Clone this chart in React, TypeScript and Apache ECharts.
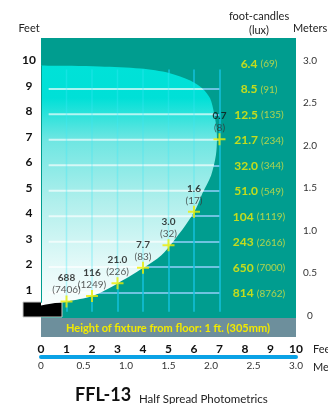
import React, { useEffect, useRef } from 'react';
import * as echarts from 'echarts';

const FONT = 'Lato, "Noto Sans", sans-serif';

// Grid line positions (feet)
const gridRows = [1, 2, 3, 4, 5, 6, 7, 8, 9];
const gridCols = [1, 2, 3, 4, 5, 6, 7];

// Half-spread edge points (distance ft, height ft)
const crossX = [1, 2, 3, 4, 5, 6, 7];
const crossY = [0.65, 0.86, 1.37, 1.97, 2.86, 4.17, 7.02];
const crossFc = ['688', '116', '21.0', '7.7', '3.0', '1.6', '0.7'];
const crossLux = ['7406', '1249', '226', '83', '32', '17', '8'];

// Center beam illuminance per height (ft)
const heightFt = [10, 9, 8, 7, 6, 5, 4, 3, 2, 1];
const centerFc = ['6.4', '8.5', '12.5', '21.7', '32.0', '51.0', '104', '243', '650', '814'];
const centerLux = ['69', '91', '135', '234', '344', '549', '1119', '2616', '7000', '8762'];
const centerLabelX = 8.55;

// Beam outline (distance ft, height ft)
const beamEdge: number[][] = [
  [-1, 10.0], [0, 9.92], [1.2, 9.91], [2.3, 9.88], [3.9, 9.8], [5.05, 9.62],
  [5.85, 9.33], [6.35, 9.0], [6.63, 8.63], [6.78, 8.08], [6.87, 7.55], [6.9, 7.05],
  [6.86, 6.4], [6.67, 5.6], [6.33, 4.9], [6.08, 4.3], [5.66, 3.63], [5.18, 3.0],
  [4.72, 2.47], [4.0, 1.96], [3.02, 1.37], [2.0, 0.86], [1.05, 0.65], [0.7, 0.6], [-1, 0.6],
];

const TEAL = '#009d8f';

export default function App() {
  const ref = useRef<HTMLDivElement>(null);
  useEffect(() => {
    if (!ref.current) return;
    const chart = echarts.init(ref.current, undefined, { renderer: 'svg' });
    const gradient = new echarts.graphic.LinearGradient(0, 0, 0, 1, [
      { offset: 0, color: '#00e2d8' },
      { offset: 0.15, color: '#00e0d7' },
      { offset: 0.32, color: '#6ee6e2' },
      { offset: 0.57, color: '#b0efec' },
      { offset: 0.82, color: '#e2f9f8' },
      { offset: 1, color: '#fbfefe' },
    ]);
    const option: any = {
      animation: false,
      textStyle: { fontFamily: FONT },
      grid: {
        left: 41, right: 32, top: 38, bottom: 86, show: true, backgroundColor: TEAL, borderWidth: 0,
        containLabel: false, outerBoundsMode: 'none',
      },
      xAxis: [
        {
          type: 'value', min: 0, max: 10, interval: 1, position: 'bottom', offset: 30,
          axisLine: { show: false, onZero: false }, axisTick: { show: false }, splitLine: { show: false },
          axisLabel: { margin: 0, verticalAlign: 'middle', fontWeight: 'bold', fontSize: 12, color: '#111', fontFamily: FONT },
        },
        {
          type: 'value', min: 0, max: 3, interval: 0.5, position: 'bottom', offset: 39,
          axisLine: { show: true, onZero: false, lineStyle: { color: '#0aa2e6', width: 4 } },
          axisTick: { show: false }, splitLine: { show: false },
          axisLabel: { margin: 3, fontSize: 10, color: '#333', fontFamily: FONT, formatter: (v: number) => (v === 0 ? '0' : v.toFixed(1)) },
        },
      ],
      yAxis: [
        {
          type: 'value', min: 0, max: 11, interval: 1, position: 'left',
          axisLine: { show: false }, axisTick: { show: false }, splitLine: { show: false },
          axisLabel: {
            formatter: (v: number) => (v >= 1 && v <= 10 ? String(v) : ''),
            align: 'center', verticalAlign: 'bottom', lineHeight: 7, margin: 12,
            fontWeight: 'bold', fontSize: 12, color: '#111', fontFamily: FONT,
          },
        },
        {
          type: 'value', min: 0, max: 3.3, interval: 0.5, position: 'right',
          axisLine: { show: false }, axisTick: { show: false }, splitLine: { show: false },
          axisLabel: {
            formatter: (v: number) => {
              if (v === 0) return '0';
              const d = v * 2;
              return Math.abs(d - Math.round(d)) < 1e-6 ? v.toFixed(1) : '';
            },
            align: 'center', verticalAlign: 'bottom', lineHeight: 7, margin: 14,
            fontSize: 10, color: '#333', fontFamily: FONT,
          },
        },
      ],
      series: [
        {
          type: 'lines', coordinateSystem: 'cartesian2d', xAxisIndex: 0, yAxisIndex: 0, z: 1, silent: true,
          data: gridRows.map((k) => ({ coords: [[0.3, k], [7.02, k]] })),
          lineStyle: { color: '#6ec3e0', width: 2, opacity: 1 },
        },
        {
          type: 'lines', coordinateSystem: 'cartesian2d', xAxisIndex: 0, yAxisIndex: 0, z: 1, silent: true,
          data: gridCols.map((k) => ({ coords: [[k, 0.25], [k, 9.76]] })),
          lineStyle: { color: '#13c2dc', width: 1.5, opacity: 1 },
        },
        {
          type: 'custom', coordinateSystem: 'cartesian2d', xAxisIndex: 0, yAxisIndex: 0, z: 2, clip: true, silent: true,
          data: [[0, 0]],
          renderItem: (params: any, api: any) => {
            const pts = beamEdge.map((p) => api.coord(p));
            const clip = () => ({ type: 'polygon', shape: { points: pts, smooth: 0.3 } });
            const children: any[] = [
              { type: 'polygon', shape: { points: pts, smooth: 0.3 }, style: { fill: gradient } },
            ];
            gridRows.forEach((k) => {
              const a = api.coord([0.3, k]);
              const b = api.coord([7.02, k]);
              children.push({
                type: 'line', shape: { x1: a[0], y1: a[1], x2: b[0], y2: b[1] },
                style: { stroke: 'rgba(255,255,255,0.65)', lineWidth: 2 }, clipPath: clip(),
              });
            });
            gridCols.forEach((k) => {
              const a = api.coord([k, 0.25]);
              const b = api.coord([k, 9.76]);
              children.push({
                type: 'line', shape: { x1: a[0], y1: a[1], x2: b[0], y2: b[1] },
                style: { stroke: 'rgba(60,235,250,0.33)', lineWidth: 1.5 }, clipPath: clip(),
              });
            });
            const l0 = api.coord([0, 0.6]);
            const l1 = api.coord([0, 9.92]);
            children.push({
              type: 'line', shape: { x1: l0[0] + 0.5, y1: l0[1], x2: l1[0] + 0.5, y2: l1[1] },
              style: { stroke: TEAL, lineWidth: 1 },
            });
            return { type: 'group', children };
          },
        },
        {
          type: 'scatter', xAxisIndex: 0, yAxisIndex: 0, z: 4, silent: true,
          symbol: 'path://M5,0H7V5H12V7H7V12H5V7H0V5H5Z', symbolSize: 12,
          itemStyle: { color: '#f0ee00' },
          data: crossX.map((x, i) => [x, crossY[i], crossFc[i], crossLux[i]]),
          label: {
            show: true, position: 'top', distance: 0,
            formatter: (p: any) => `{v|${p.data[2]}}\n{l|(${p.data[3]})}`,
            rich: {
              v: { fontWeight: 'bold', fontSize: 10, color: '#111', lineHeight: 12, fontFamily: FONT },
              l: { fontSize: 10, color: '#333', lineHeight: 12, fontFamily: FONT },
            },
          },
        },
        {
          type: 'scatter', xAxisIndex: 0, yAxisIndex: 0, z: 5, silent: true,
          symbolSize: 1, itemStyle: { color: 'rgba(0,0,0,0)' },
          data: heightFt.map((h, i) => [centerLabelX, h, centerFc[i], centerLux[i]]),
          label: {
            show: true, position: 'inside',
            formatter: (p: any) => `{v|${p.data[2]}} {l|(${p.data[3]})}`,
            rich: {
              v: { fontWeight: 'bold', fontSize: 12, color: '#f4ec00', fontFamily: FONT },
              l: { fontSize: 10, color: '#d6e040', fontFamily: FONT },
            },
          },
        },
      ],
      graphic: [
        { type: 'text', x: 29, y: 27, style: { text: 'Feet', align: 'center', verticalAlign: 'middle', fontSize: 11, fill: '#222', fontFamily: FONT } },
        { type: 'text', x: 259, y: 15, style: { text: 'foot-candles', align: 'center', verticalAlign: 'middle', fontSize: 11, fill: '#222', fontFamily: FONT } },
        { type: 'text', x: 259, y: 29, style: { text: '(lux)', align: 'center', verticalAlign: 'middle', fontSize: 11, fill: '#222', fontFamily: FONT } },
        { type: 'text', x: 293, y: 27, style: { text: 'Meters', align: 'left', verticalAlign: 'middle', fontSize: 11, fill: '#222', fontFamily: FONT } },
        { type: 'text', x: 313, y: 348, style: { text: 'Feet', align: 'left', verticalAlign: 'middle', fontSize: 11, fill: '#222', fontFamily: FONT } },
        { type: 'text', x: 313, y: 366, style: { text: 'Meters', align: 'left', verticalAlign: 'middle', fontSize: 11, fill: '#222', fontFamily: FONT } },
        { type: 'rect', shape: { x: 41, y: 318, width: 255, height: 19 }, style: { fill: '#6d8f9c' } },
        { type: 'text', x: 168, y: 327.5, style: { text: 'Height of fixture from floor: 1 ft. (305mm)', align: 'center', verticalAlign: 'middle', fontSize: 11, fontWeight: 'bold', fill: '#f2ea00', fontFamily: FONT } },
        { type: 'rect', shape: { x: 23, y: 302, width: 39, height: 15 }, style: { fill: '#000', stroke: '#c8c8c8', lineWidth: 1 } },
        { type: 'text', x: 75, y: 394, style: { text: 'FFL-13', align: 'left', verticalAlign: 'middle', fontSize: 18, fontWeight: 'bold', fill: '#111', fontFamily: FONT } },
        { type: 'text', x: 139, y: 398, style: { text: 'Half Spread Photometrics', align: 'left', verticalAlign: 'middle', fontSize: 11.5, fill: '#222', fontFamily: FONT } },
      ],
    };
    chart.setOption(option);
    return () => chart.dispose();
  }, []);
  return <div ref={ref} style={{ position: 'fixed', left: 0, top: 0, width: 328, height: 404 }} />;
}
